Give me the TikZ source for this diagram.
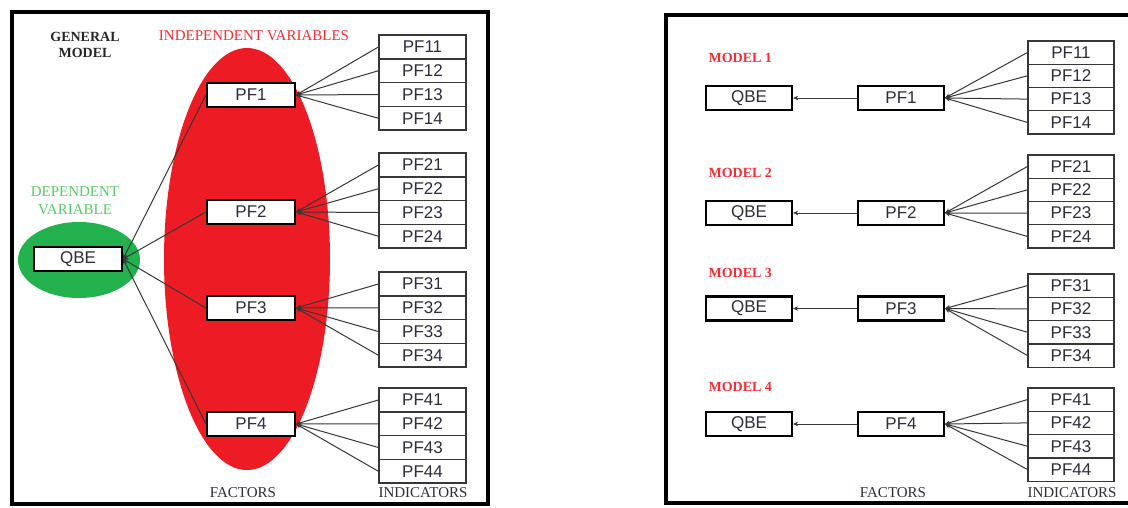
\documentclass[tikz,border=0pt]{standalone}
\usepackage{fontspec}
\setmainfont{Liberation Serif}
\newfontfamily\boxfont{Liberation Sans}
\usetikzlibrary{arrows.meta}

\definecolor{indepred}{RGB}{237,28,36}
\definecolor{depgreen}{RGB}{34,177,76}
\definecolor{labelred}{RGB}{245,45,55}
\definecolor{labelgreen}{RGB}{90,200,105}
\definecolor{wire}{RGB}{55,55,55}
\definecolor{boxtext}{RGB}{45,45,60}

\begin{document}
\begin{tikzpicture}[x=1pt,y=-1pt,
  frame/.style={draw=black, line width=4pt},
  factorbox/.style={draw=black, line width=2.2pt, fill=white,
    minimum width=88pt, minimum height=24pt, inner sep=0pt,
    font=\boxfont\fontsize{17}{20}\selectfont, text=boxtext},
  indbox/.style={draw=wire, line width=1.3pt, fill=white,
    minimum width=87pt, minimum height=23.75pt, inner sep=0pt,
    font=\boxfont\fontsize{17}{20}\selectfont, text=boxtext},
  link/.style={draw=wire, line width=1pt, -{Stealth[length=5pt,width=4.5pt]}},
  caption/.style={font=\fontsize{15}{18}\selectfont, text=boxtext},
  modellabel/.style={font=\bfseries\fontsize{14}{16}\selectfont, text=labelred, anchor=west},
]
\useasboundingbox (0,0) rectangle (1128,507);
\begin{scope}
\clip (0,0) rectangle (1128,507);

% ---------- general model ----------
\draw[frame] (12,12) rectangle (488,504);

\fill[indepred] (247,259) ellipse [x radius=83, y radius=211];
\fill[depgreen] (79,260) ellipse [x radius=61, y radius=38];

\node[font=\bfseries\fontsize{14}{16}\selectfont, text=black!85, align=center]
  (gm) at (85,45) {GENERAL\\MODEL};
\node[font=\fontsize{15}{18}\selectfont, text=labelred] (iv) at (254,36) {INDEPENDENT VARIABLES};
\node[font=\fontsize{15}{18}\selectfont, text=labelgreen, align=center]
  (dv) at (75,201) {DEPENDENT\\VARIABLE};

\node[factorbox] (Q) at (78,259) {QBE};
\node[factorbox] (LF1) at (251,95) {PF1};
\node[factorbox] (LF2) at (251,212) {PF2};
\node[factorbox] (LF3) at (251,308) {PF3};
\node[factorbox] (LF4) at (251,424) {PF4};

\foreach \g/\y in {1/47,2/165,3/284,4/400} {
  \foreach \k in {1,...,4} {
    \node[indbox] (L\g\k) at (422.5,{\y+(\k-1)*23.75}) {PF\g\k};
  }
}
\foreach \g in {1,...,4} {
  \foreach \k in {1,...,4} {
    \draw[link] (L\g\k.west) -- (LF\g.east);
  }
  \draw[link] (LF\g.west) -- (Q.east);
}

\node[caption] (lfac) at (243,493) {FACTORS};
\node[caption] (lind) at (423,493) {INDICATORS};

% ---------- single-factor models ----------
\draw[frame] (666,15) rectangle (1140,503);

\foreach \g/\ly/\fy/\iy in {1/58/98/52.5, 2/173/213/166.5,
                            3/273/308.5/285.6, 4/387/424/399.6} {
  \node[modellabel] (M\g) at (705,\ly) {MODEL \g};
  \node[factorbox, minimum width=86pt] (RQ\g) at (749,\fy) {QBE};
  \node[factorbox, minimum width=86pt] (RF\g) at (901,\fy) {PF\g};
  \foreach \k in {1,...,4} {
    \node[indbox, minimum width=86pt, minimum height=23.3pt]
      (R\g\k) at (1071,{\iy+(\k-1)*23.3}) {PF\g\k};
  }
  \foreach \k in {1,...,4} {
    \draw[link] (R\g\k.west) -- (RF\g.east);
  }
  \draw[link] (RF\g.west) -- (RQ\g.east);
}

\node[caption] (rfac) at (893,493) {FACTORS};
\node[caption] (rind) at (1072,493) {INDICATORS};
\end{scope}
\end{tikzpicture}
\end{document}
